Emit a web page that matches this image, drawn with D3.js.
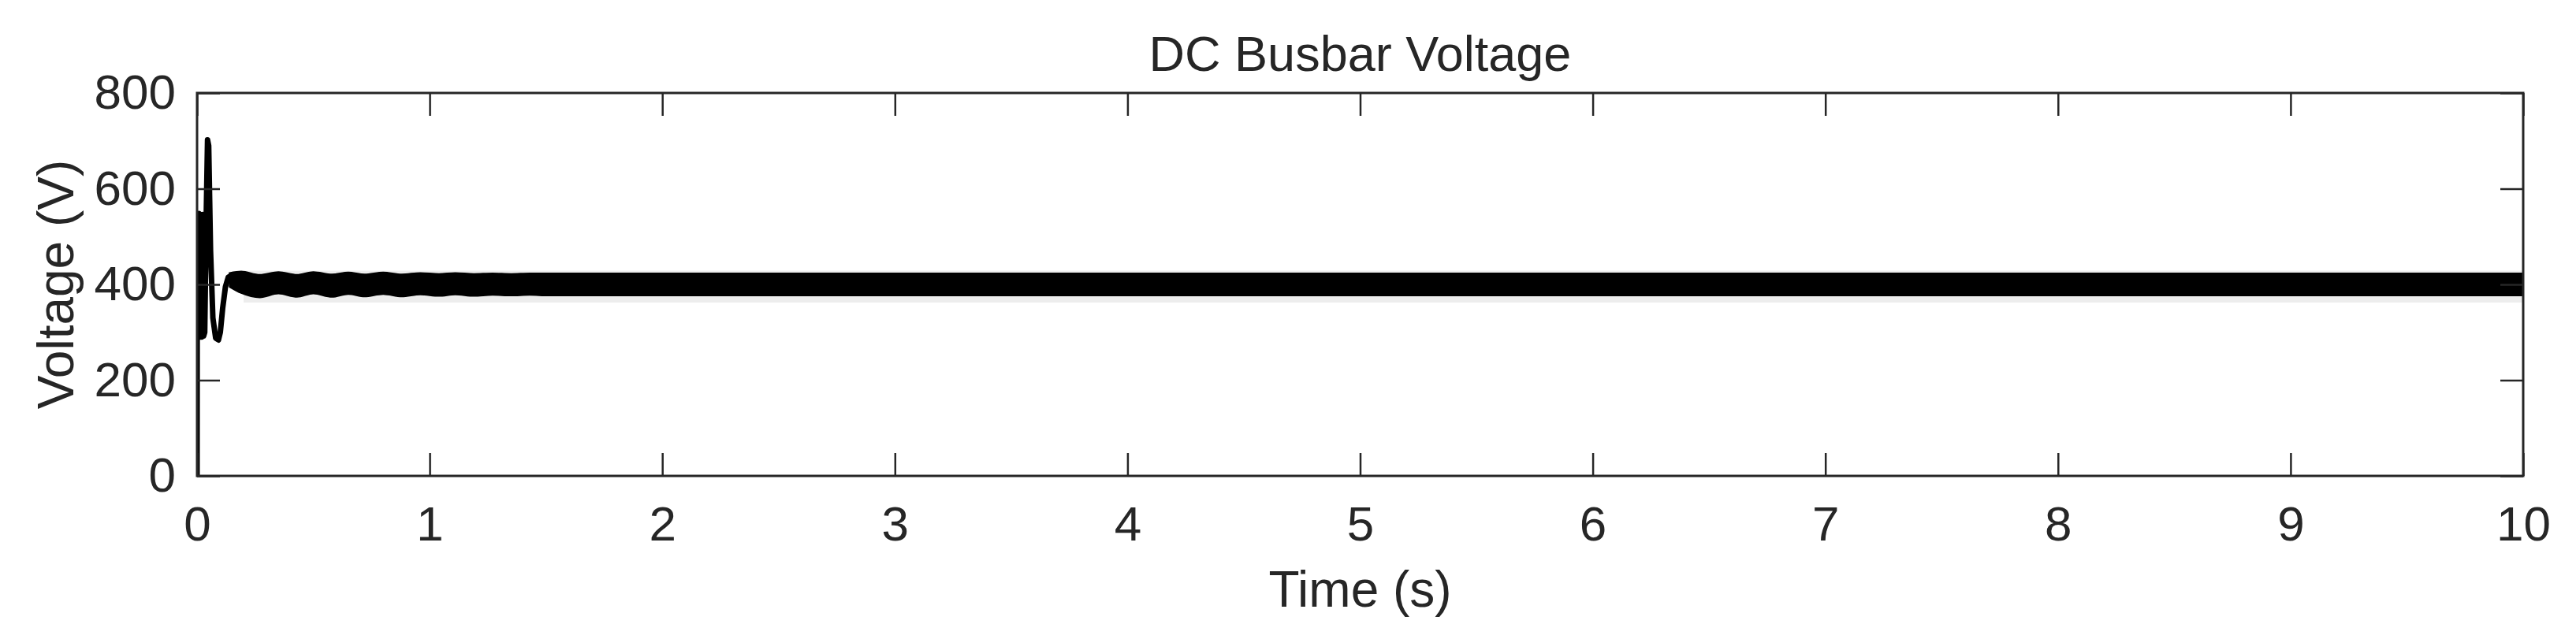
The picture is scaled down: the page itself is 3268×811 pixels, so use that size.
<!DOCTYPE html>
<html>
<head>
<meta charset="utf-8">
<script src="https://cdn.jsdelivr.net/npm/d3@7"></script>
<style>
    body { margin: 0; background: #ffffff; }
    svg { display: block; }
    text { font-family: "Liberation Sans", Arial, Helvetica, sans-serif; fill: #262626; }
</style>
</head>
<body>
<div id="chart"></div>
<script>
// DC busbar voltage - start-up transient then a ripple band around 400 V

const xTicks = [0, 1, 2, 3, 4, 5, 6, 7, 8, 9, 10];
const yTicks = [0, 200, 400, 600, 800];

// start-up transient (s, V)
const transientT = [0, 0.001, 0.004, 0.008, 0.012, 0.016, 0.020, 0.024, 0.028, 0.033, 0.040, 0.045, 0.050, 0.058, 0.068, 0.080, 0.092, 0.100, 0.110, 0.122, 0.134, 0.150];
const transientV = [0, 548, 290, 548, 290, 546, 290, 546, 292, 300, 560, 702, 690, 470, 330, 288, 284, 300, 350, 395, 415, 420];

// envelope of the fast ripple after the transient (s, V)
const bandT  = [0.14, 0.19, 0.27, 0.35, 0.43, 0.50, 0.58, 0.65, 0.72, 0.80, 0.88, 0.96, 1.04, 1.11, 1.19, 1.27, 1.35, 1.43, 1.51, 1.60, 2.0, 10];
const bandHi = [424, 427, 420, 426, 420, 426, 421, 425, 421, 425, 421, 424, 422, 424, 422, 423, 422, 423, 423, 423, 423, 423];
const bandLo = [395, 382, 373, 381, 374, 381, 374, 380, 375, 380, 375, 379, 376, 379, 376, 378, 377, 378, 377, 377, 377, 377];

// faint spikes just outside the band
const fringeT  = [0.2, 10];
const fringeHi = [429, 429];
const fringeLo = [362, 362];

const width = 3268, height = 811;
const margin = { top: 118, right: 67, bottom: 207, left: 250 };
const plotW = width - margin.left - margin.right;
const plotH = height - margin.top - margin.bottom;
const axisColor = '#262626';

const svg = d3.select('#chart').append('svg')
    .attr('width', width)
    .attr('height', height);

const g = svg.append('g').attr('transform', `translate(${margin.left},${margin.top})`);

const x = d3.scaleLinear().domain([0, 10]).range([0, plotW]);
const y = d3.scaleLinear().domain([0, 800]).range([plotH, 0]);

g.append('defs').append('clipPath').attr('id', 'clip')
    .append('rect').attr('width', plotW).attr('height', plotH);

const plot = g.append('g').attr('clip-path', 'url(#clip)');

const fringe = fringeT.map((t, i) => ({ t, hi: fringeHi[i], lo: fringeLo[i] }));
const band = bandT.map((t, i) => ({ t, hi: bandHi[i], lo: bandLo[i] }));
const trans = transientT.map((t, i) => ({ t, v: transientV[i] }));

const area = d3.area().x(d => x(d.t)).y0(d => y(d.lo)).y1(d => y(d.hi));

plot.append('path').datum(fringe).attr('d', area).attr('fill', '#ededed');
plot.append('path').datum(band).attr('d', area.curve(d3.curveMonotoneX))
    .attr('fill', '#000').attr('stroke', '#000').attr('stroke-width', 2);

plot.append('path').datum(trans)
    .attr('d', d3.line().x(d => x(d.t)).y(d => y(d.v)))
    .attr('fill', 'none')
    .attr('stroke', '#000')
    .attr('stroke-width', 7)
    .attr('stroke-linejoin', 'round');

// axes with inward ticks on all four sides
const tickLen = 29;
const fmt = d3.format('d');

const xAxis = g.append('g').attr('transform', `translate(0,${plotH})`)
    .call(d3.axisBottom(x).tickValues(xTicks).tickFormat(fmt).tickSizeInner(-tickLen).tickSizeOuter(0).tickPadding(38));
const xTop = g.append('g')
    .call(d3.axisTop(x).tickValues(xTicks).tickFormat('').tickSizeInner(-tickLen).tickSizeOuter(0));
const yAxis = g.append('g')
    .call(d3.axisLeft(y).tickValues(yTicks).tickFormat(fmt).tickSizeInner(-tickLen).tickSizeOuter(0).tickPadding(27));
const yRight = g.append('g').attr('transform', `translate(${plotW},0)`)
    .call(d3.axisRight(y).tickValues(yTicks).tickFormat('').tickSizeInner(-tickLen).tickSizeOuter(0));

[xAxis, xTop, yAxis, yRight].forEach(a => {
    a.select('.domain').remove();
    a.selectAll('line').attr('stroke', axisColor).attr('stroke-width', 2.5);
    a.selectAll('text').style('font-size', '62px').attr('fill', axisColor);
});

g.append('rect')
    .attr('width', plotW)
    .attr('height', plotH)
    .attr('fill', 'none')
    .attr('stroke', axisColor)
    .attr('stroke-width', 3);

svg.append('text')
    .attr('x', margin.left + plotW / 2)
    .attr('y', 90)
    .attr('text-anchor', 'middle')
    .style('font-size', '63px')
    .attr('fill', '#000')
    .text('DC Busbar Voltage');

svg.append('text')
    .attr('x', margin.left + plotW / 2)
    .attr('y', 770)
    .attr('text-anchor', 'middle')
    .style('font-size', '64px')
    .text('Time (s)');

svg.append('text')
    .attr('transform', `translate(93,${margin.top + plotH / 2}) rotate(-90)`)
    .attr('text-anchor', 'middle')
    .style('font-size', '64px')
    .text('Voltage (V)');
</script>
</body>
</html>
